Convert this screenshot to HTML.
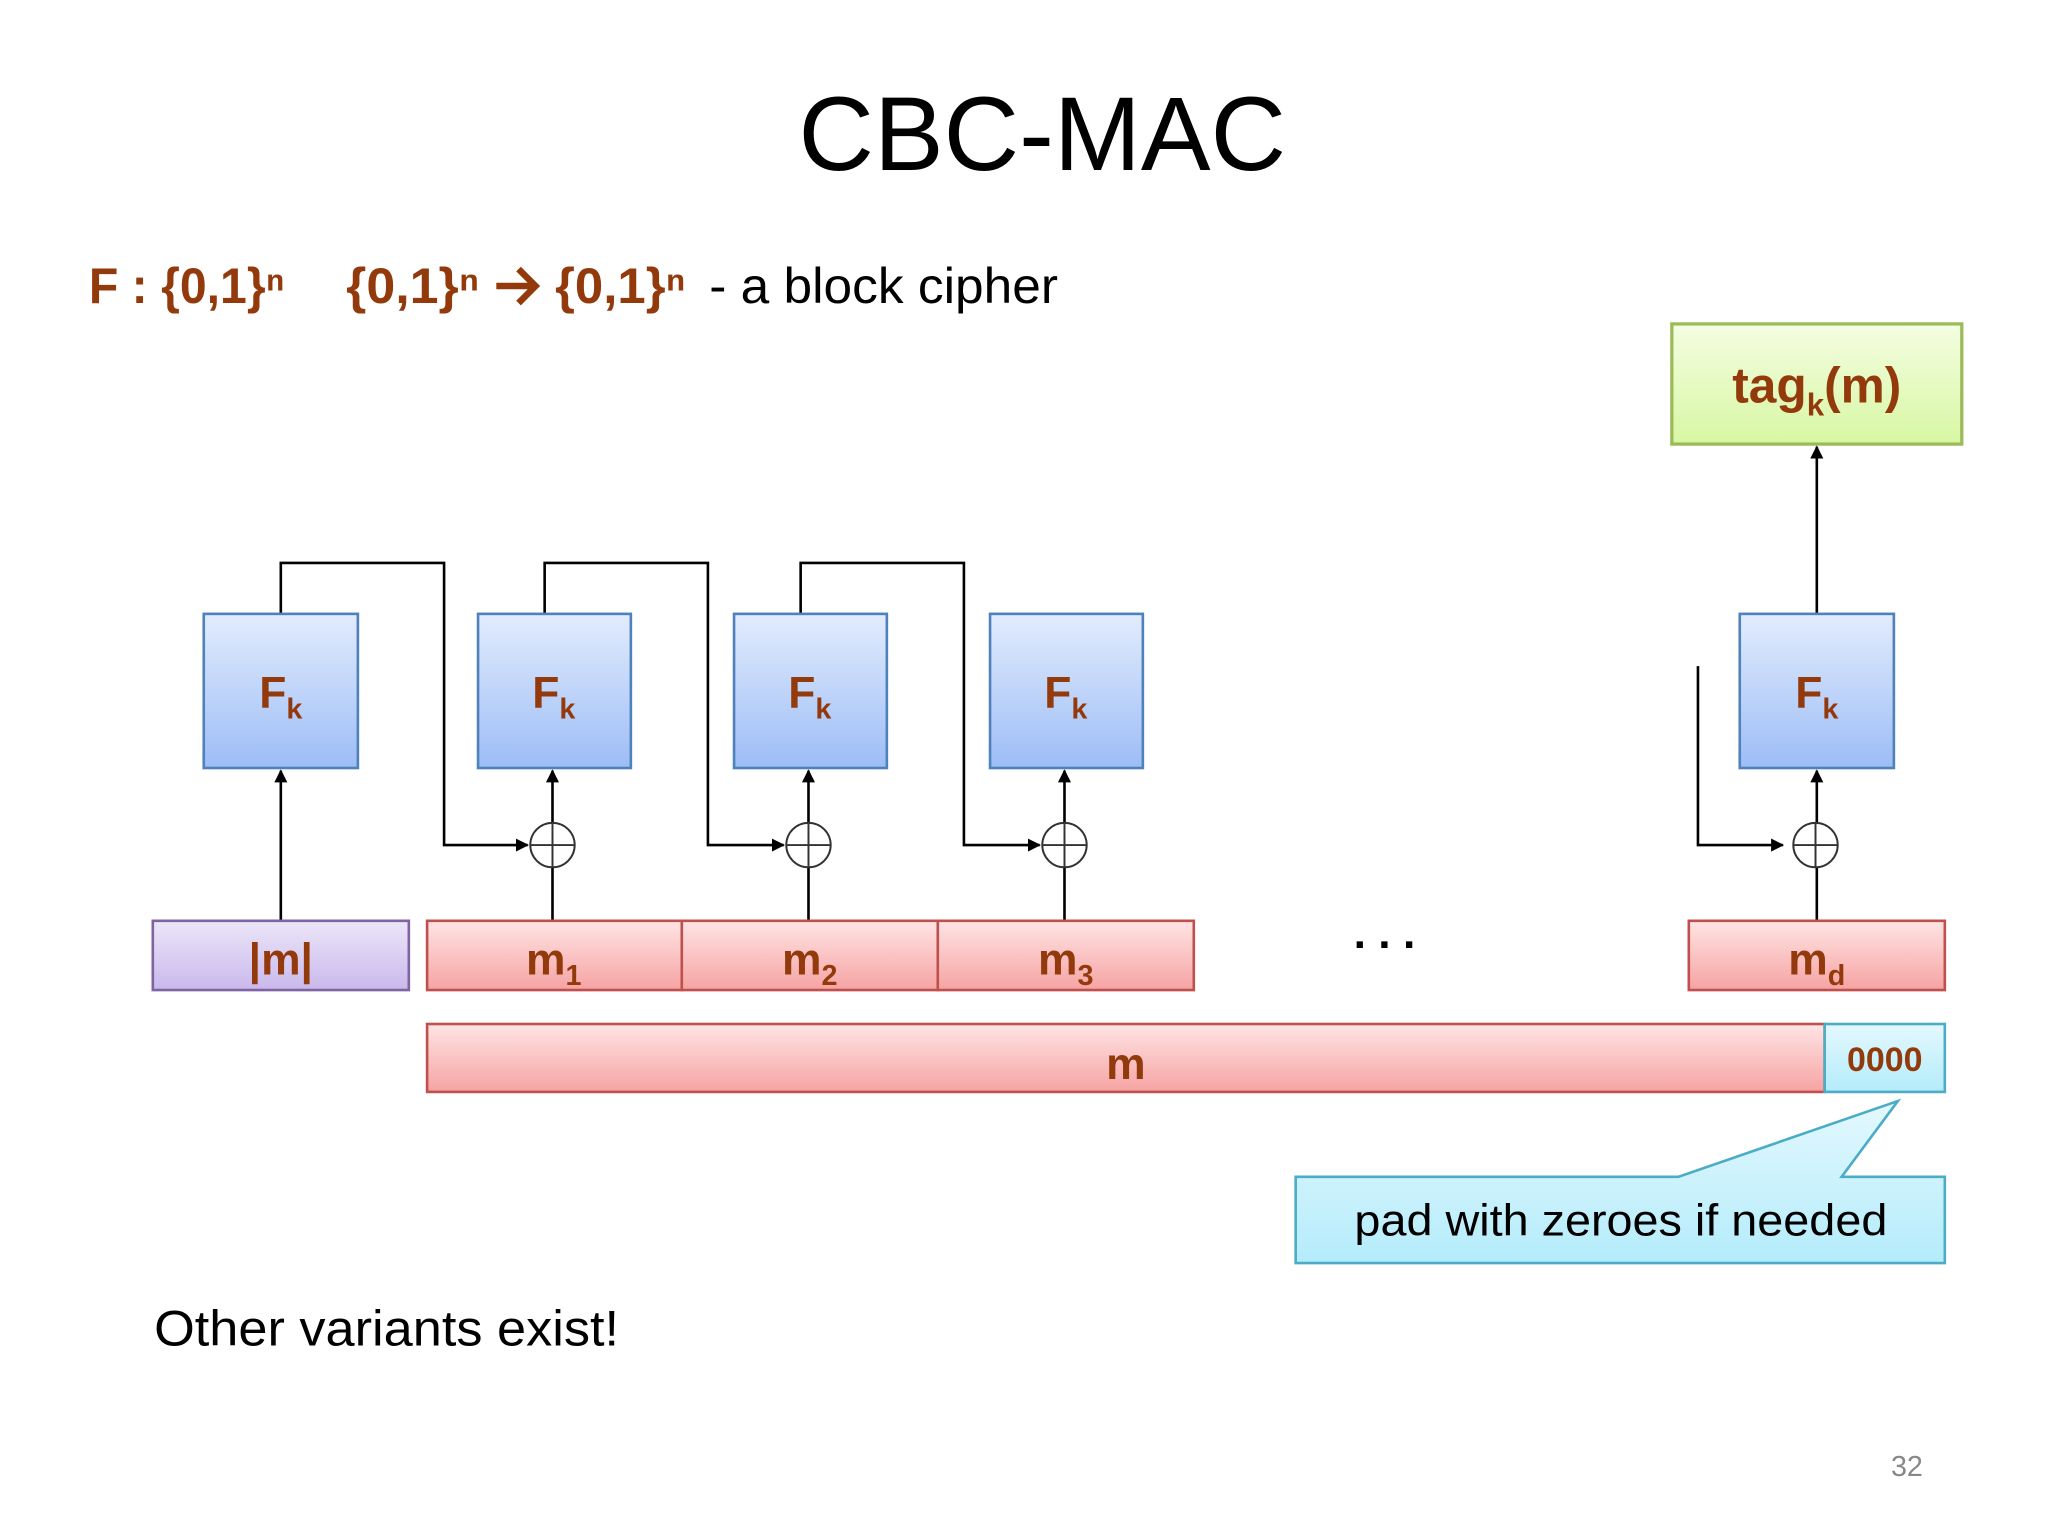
<!DOCTYPE html>
<html><head><meta charset="utf-8"><style>
html,body{margin:0;padding:0;background:#fff;}
svg{display:block;}
text{font-family:"Liberation Sans",sans-serif;}
.b{fill:#933a0c;font-weight:bold;}
</style></head><body>
<svg width="2048" height="1536" viewBox="0 0 1568 1176" xmlns="http://www.w3.org/2000/svg">
<defs>
<linearGradient id="gb" x1="0" y1="0" x2="0" y2="1"><stop offset="0" stop-color="#e2ecfd"/><stop offset="1" stop-color="#9dbdf6"/></linearGradient>
<linearGradient id="gr" x1="0" y1="0" x2="0" y2="1"><stop offset="0" stop-color="#ffe4e4"/><stop offset="1" stop-color="#f6a3a3"/></linearGradient>
<linearGradient id="gp" x1="0" y1="0" x2="0" y2="1"><stop offset="0" stop-color="#ece6f8"/><stop offset="1" stop-color="#c9b9ec"/></linearGradient>
<linearGradient id="gg" x1="0" y1="0" x2="0" y2="1"><stop offset="0" stop-color="#f4fde2"/><stop offset="1" stop-color="#d8f7a3"/></linearGradient>
<linearGradient id="gc" x1="0" y1="0" x2="0" y2="1"><stop offset="0" stop-color="#e4f8fe"/><stop offset="1" stop-color="#b4ecfb"/></linearGradient>
<marker id="ar" markerWidth="10" markerHeight="10" refX="9" refY="5" orient="auto" markerUnits="userSpaceOnUse"><path d="M0,0 L10,5 L0,10 z" fill="#000"/></marker>
</defs>
<text x="798" y="130" font-size="80" text-anchor="middle" fill="#000">CBC-MAC</text>
<text x="68" y="232" font-size="38" class="b" textLength="150" lengthAdjust="spacingAndGlyphs">F : {0,1}ⁿ</text>
<text x="265" y="232" font-size="38" class="b" textLength="102" lengthAdjust="spacingAndGlyphs">{0,1}ⁿ</text>
<path d="M380,219 H408 M397,206 L410,219 L397,232" stroke="#933a0c" stroke-width="5" fill="none"/>
<text x="425" y="232" font-size="38" class="b" textLength="100" lengthAdjust="spacingAndGlyphs">{0,1}ⁿ</text>
<text x="543" y="232" font-size="38" fill="#000" textLength="267" lengthAdjust="spacingAndGlyphs">- a block cipher</text>

<rect x="1280" y="248" width="222" height="92" fill="url(#gg)" stroke="#9bbb59" stroke-width="2.5"/>
<text x="1391" y="308" font-size="38" class="b" text-anchor="middle">tag<tspan font-size="24" dy="10">k</tspan><tspan dy="-10">(m)</tspan></text>

<g stroke="#000" stroke-width="2" fill="none">
<path d="M215,470 V431 H340 V647 H404" marker-end="url(#ar)"/>
<path d="M417,470 V431 H542 V647 H600" marker-end="url(#ar)"/>
<path d="M613,470 V431 H738 V647 H796" marker-end="url(#ar)"/>
<path d="M1300,510 V647 H1365" marker-end="url(#ar)"/>
<path d="M215,705 V590" marker-end="url(#ar)"/>
<path d="M1391,470 V342" marker-end="url(#ar)"/>
</g>
<g stroke="#000" stroke-width="2" fill="none">
<path d="M423,705 V664 M423,630 V590" marker-end="url(#ar)"/>
<path d="M619,705 V664 M619,630 V590" marker-end="url(#ar)"/>
<path d="M815,705 V664 M815,630 V590" marker-end="url(#ar)"/>
<path d="M1391,705 V664 M1391,630 V590" marker-end="url(#ar)"/>
</g>
<g stroke="#333" stroke-width="1.5" fill="#fff">
<circle cx="423" cy="647" r="17"/><path d="M406,647 H440 M423,630 V664"/>
<circle cx="619" cy="647" r="17"/><path d="M602,647 H636 M619,630 V664"/>
<circle cx="815" cy="647" r="17"/><path d="M798,647 H832 M815,630 V664"/>
<circle cx="1390" cy="647" r="17"/><path d="M1373,647 H1407 M1390,630 V664"/>
</g>

<g stroke="#4f81bd" stroke-width="2" fill="url(#gb)">
<rect x="156" y="470" width="118" height="118"/>
<rect x="366" y="470" width="117" height="118"/>
<rect x="562" y="470" width="117" height="118"/>
<rect x="758" y="470" width="117" height="118"/>
<rect x="1332" y="470" width="118" height="118"/>
</g>
<g font-size="34" class="b" text-anchor="middle">
<text x="215" y="542">F<tspan font-size="22" dy="8">k</tspan></text>
<text x="424" y="542">F<tspan font-size="22" dy="8">k</tspan></text>
<text x="620" y="542">F<tspan font-size="22" dy="8">k</tspan></text>
<text x="816" y="542">F<tspan font-size="22" dy="8">k</tspan></text>
<text x="1391" y="542">F<tspan font-size="22" dy="8">k</tspan></text>
</g>

<rect x="117" y="705" width="196" height="53" fill="url(#gp)" stroke="#8064a2" stroke-width="2"/>
<g stroke="#c0504d" stroke-width="2" fill="url(#gr)">
<rect x="327" y="705" width="195" height="53"/>
<rect x="522" y="705" width="196" height="53"/>
<rect x="718" y="705" width="196" height="53"/>
<rect x="1293" y="705" width="196" height="53"/>
<rect x="327" y="784" width="1070" height="52"/>
</g>
<rect x="1397" y="784" width="92" height="52" fill="url(#gc)" stroke="#4bacc6" stroke-width="2"/>
<g font-size="34" class="b" text-anchor="middle">
<text x="215" y="746">|m|</text>
<text x="424" y="746">m<tspan font-size="22" dy="8">1</tspan></text>
<text x="620" y="746">m<tspan font-size="22" dy="8">2</tspan></text>
<text x="816" y="746">m<tspan font-size="22" dy="8">3</tspan></text>
<text x="1391" y="746">m<tspan font-size="22" dy="8">d</tspan></text>
<text x="862" y="826">m</text>
<text x="1443" y="820" font-size="26">0000</text>
</g>
<text x="1060" y="726" font-size="34" font-weight="bold" text-anchor="middle" fill="#000">. . .</text>

<path d="M992,901 H1285 L1453,843 L1410,901 H1489 V967 H992 Z" fill="url(#gc)" stroke="#4bacc6" stroke-width="2"/>
<text x="1241" y="946" font-size="34" text-anchor="middle" fill="#000" textLength="408" lengthAdjust="spacingAndGlyphs">pad with zeroes if needed</text>

<text x="118" y="1030" font-size="38" fill="#000" textLength="356" lengthAdjust="spacingAndGlyphs">Other variants exist!</text>
<text x="1460" y="1130" font-size="22" fill="#888" text-anchor="middle">32</text>
</svg>
</body></html>
